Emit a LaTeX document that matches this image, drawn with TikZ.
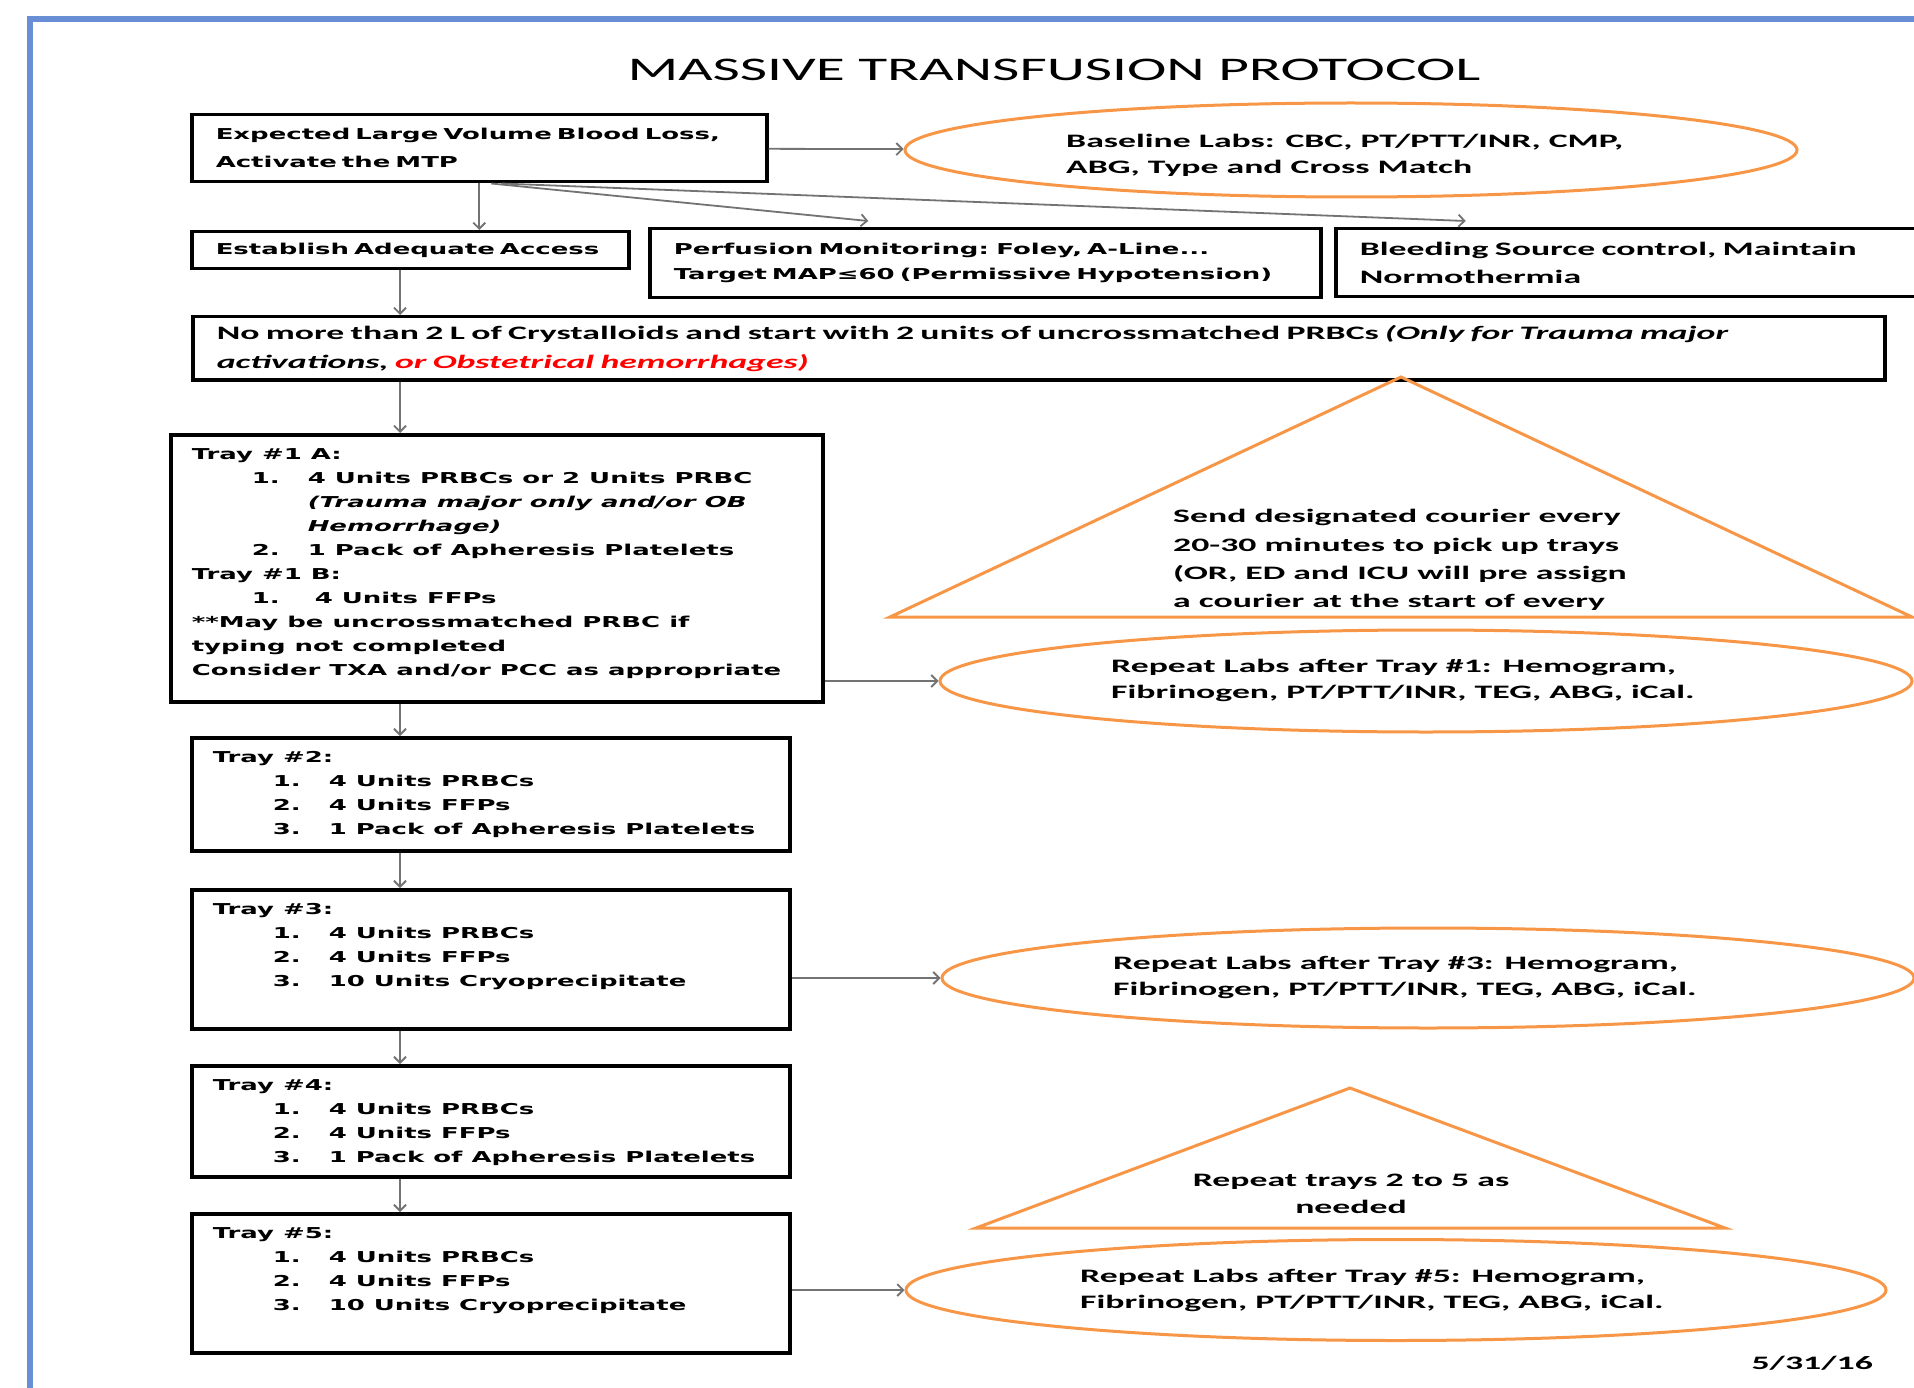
\documentclass[tikz,border=0pt]{standalone}
\usepackage{fontspec}
\usepackage{xcolor}
\usepackage{tikz}
\usetikzlibrary{arrows.meta,shapes.geometric}
\newfontfamily\calfont{Carlito}[FakeStretch=1.88]
\newfontfamily\titlefont{Carlito}[FakeStretch=1.8]
\newfontfamily\verfont{DejaVu Sans}[FakeStretch=1.73]
\definecolor{mtporange}{RGB}{247,150,70}
\definecolor{mtpblue}{RGB}{104,142,214}
\newcommand{\trayitem}[2]{\hspace*{60pt}\makebox[56pt][l]{#1}#2}
\newcommand{\trayline}[1]{\hspace*{116pt}#1}

\begin{document}
\begin{tikzpicture}[x=1pt,y=-1pt,
    >={Straight Barb[length=6pt,width=12pt]},
    arr/.style={->,draw=black!55,line width=1.8pt},
    box/.style={draw=black,line width=3.5pt,anchor=north west,inner xsep=24pt,inner ysep=0pt,
        minimum height=#1,align=left,font=\verfont\bfseries\fontsize{15}{27}\selectfont},
    calbox/.style={box=#1,font=\calfont\bfseries\fontsize{19}{28}\selectfont},
    tray/.style={draw=black,line width=3.5pt,anchor=north west,inner xsep=21pt,inner ysep=8pt,
        font=\verfont\bfseries\fontsize{15}{24}\selectfont},
    labs/.style={ellipse,draw=mtporange,line width=3pt,inner sep=0pt},
    labtxt/.style={align=left,inner sep=0pt,font=\calfont\bfseries\fontsize{19}{26}\selectfont},
    tri/.style={draw=mtporange,line width=3pt,line join=miter}]
    \useasboundingbox (0,0) rectangle (1914,1388);
    \clip (0,0) rectangle (1914,1388);
    \draw[mtpblue,line width=6pt] (30,1420) -- (30,19) -- (1950,19);
    %blue frame, open to the right and bottom
    \node[font=\titlefont\fontsize{33}{40}\selectfont] (title) at (1054,70) {MASSIVE TRANSFUSION PROTOCOL};
    %title
    \node[box=67pt,text width=527pt,font=\verfont\bfseries\fontsize{15}{28}\selectfont] (mtp) at (190,113) {Expected Large Volume Blood Loss,\\Activate the MTP};
    \node[labs,minimum width=892pt,minimum height=94pt] (base) at (1351,150) {};
    \node[labtxt,anchor=west] (basetxt) at (1066,155) {Baseline Labs: CBC, PT/PTT/INR, CMP,\\ABG, Type and Cross Match};
    %first row: activation and baseline labs
    \node[box=37pt,text width=389pt] (access) at (190,230) {Establish Adequate Access};
    \node[box=69pt,text width=623pt,font=\verfont\bfseries\fontsize{15}{25}\selectfont] (perf) at (648,227) {Perfusion Monitoring: Foley, A-Line...\\Target MAP≤60 (Permissive Hypotension)};
    \node[calbox=68pt,text width=552pt] (bleed) at (1334,227) {Bleeding Source control, Maintain\\Normothermia};
    %second row
    \node[calbox=63pt,text width=1644pt,font=\calfont\bfseries\fontsize{19}{29}\selectfont] (crys) at (191,315)
        {No more than 2 L of Crystalloids and start with 2 units of uncrossmatched PRBCs \textit{(Only for Trauma major}\\
        \textit{activations, \textcolor{red}{or Obstetrical hemorrhages)}}};
    %crystalloids
    \node[tray] (tray1) at (169,433) {\parbox[t][251pt][t]{610pt}{\strut Tray \#1 A:\\
        \trayitem{1.}{4 Units PRBCs or 2 Units PRBC}\\
        \trayline{\textit{(Trauma major only and/or OB}}\\
        \trayline{\textit{Hemorrhage)}}\\
        \trayitem{2.}{1 Pack of Apheresis Platelets}\\
        Tray \#1 B:\\
        \trayitem{1.}{\hspace*{7pt}4 Units FFPs}\\
        {}**May be uncrossmatched PRBC if\\
        typing not completed\\
        Consider TXA and/or PCC as appropriate}};
    \node[tray] (tray2) at (190,736) {\parbox[t][97pt][t]{556pt}{\strut Tray \#2:\\
        \trayitem{1.}{4 Units PRBCs}\\\trayitem{2.}{4 Units FFPs}\\\trayitem{3.}{1 Pack of Apheresis Platelets}}};
    \node[tray] (tray3) at (190,888) {\parbox[t][123pt][t]{556pt}{\strut Tray \#3:\\
        \trayitem{1.}{4 Units PRBCs}\\\trayitem{2.}{4 Units FFPs}\\\trayitem{3.}{10 Units Cryoprecipitate}}};
    \node[tray] (tray4) at (190,1064) {\parbox[t][95pt][t]{556pt}{\strut Tray \#4:\\
        \trayitem{1.}{4 Units PRBCs}\\\trayitem{2.}{4 Units FFPs}\\\trayitem{3.}{1 Pack of Apheresis Platelets}}};
    \node[tray] (tray5) at (190,1212) {\parbox[t][123pt][t]{556pt}{\strut Tray \#5:\\
        \trayitem{1.}{4 Units PRBCs}\\\trayitem{2.}{4 Units FFPs}\\\trayitem{3.}{10 Units Cryoprecipitate}}};
    %trays 1 to 5
    \draw[tri] (1401,377) -- (1912,617) -- (890,617) -- cycle;
    \node[labtxt,anchor=west,font=\calfont\bfseries\fontsize{19}{28.3}\selectfont] (courier) at (1173,560)
        {Send designated courier every\\20-30 minutes to pick up trays\\(OR, ED and ICU will pre assign\\a courier at the start of every};
    \draw[tri] (1350,1088) -- (1725,1228) -- (976,1228) -- cycle;
    \node[labtxt,align=center,font=\calfont\bfseries\fontsize{19}{27}\selectfont] (again) at (1351,1194) {Repeat trays 2 to 5 as\\needed};
    %triangles
    \node[labs,minimum width=972pt,minimum height=102pt] (rep1) at (1426,681) {};
    \node[labtxt,anchor=west] (rep1txt) at (1111,680) {Repeat Labs after Tray \#1: Hemogram,\\Fibrinogen, PT/PTT/INR, TEG, ABG, iCal.};
    \node[labs,minimum width=972pt,minimum height=100pt] (rep3) at (1428,978) {};
    \node[labtxt,anchor=west] (rep3txt) at (1113,977) {Repeat Labs after Tray \#3: Hemogram,\\Fibrinogen, PT/PTT/INR, TEG, ABG, iCal.};
    \node[labs,minimum width=980pt,minimum height=101pt] (rep5) at (1396,1290) {};
    \node[labtxt,anchor=west] (rep5txt) at (1080,1290) {Repeat Labs after Tray \#5: Hemogram,\\Fibrinogen, PT/PTT/INR, TEG, ABG, iCal.};
    \node[labtxt,anchor=east] (date) at (1873,1363) {5/31/16};
    %repeat labs and date
    \coordinate (spine) at (400,0);
    \draw[arr] (mtp) -- (base);
    \draw[arr] (mtp.south) -- (mtp.south |- access.north);
    \draw[arr] ([xshift=12pt]mtp.south) -- ([xshift=-117pt,yshift=6pt]perf.north);
    \draw[arr] ([xshift=22pt]mtp.south) -- ([xshift=-170pt,yshift=6pt]bleed.north);
    \draw[arr] (spine |- access.south) -- (spine |- crys.north);
    \draw[arr] (spine |- crys.south) -- (spine |- tray1.north);
    \foreach \a/\b in {tray1/tray2,tray2/tray3,tray3/tray4,tray4/tray5} {\draw[arr] (spine |- \a.south) -- (spine |- \b.north);}
    \foreach \t/\r in {tray1/rep1,tray3/rep3,tray5/rep5} {\draw[arr] (\t.east |- \r.west) -- (\r.west);}
    %connectors
\end{tikzpicture}
\end{document}
